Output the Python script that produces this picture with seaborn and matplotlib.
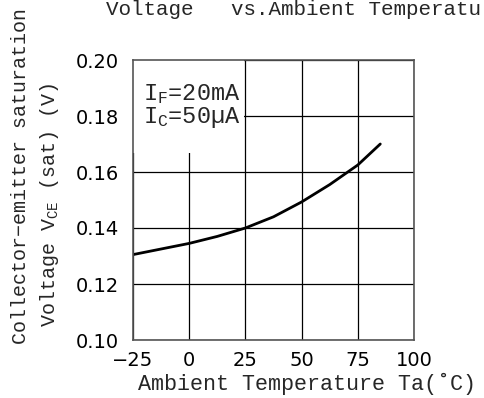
import matplotlib
matplotlib.use("Agg")
import matplotlib.pyplot as plt
import seaborn as sns
import pandas as pd
from matplotlib.patches import Rectangle

# Data
temperature = [-25, -12.5, 0, 12.5, 25, 37.5, 50, 62.5, 75, 85]
vce_sat = [0.1305, 0.1325, 0.1345, 0.137, 0.140, 0.144, 0.1493, 0.1555, 0.1625, 0.170]
x_ticks = [-25, 0, 25, 50, 75, 100]
x_ticklabels = ["\u221225", "0", "25", "50", "75", "100"]
y_ticks = [0.10, 0.12, 0.14, 0.16, 0.18, 0.20]
y_ticklabels = ["0.10", "0.12", "0.14", "0.16", "0.18", "0.20"]

sns.set_theme(style="white")
MONO = ["Liberation Mono", "DejaVu Sans Mono"]
plt.rcParams["font.family"] = ["DejaVu Sans"]
plt.rcParams["mathtext.fontset"] = "custom"
plt.rcParams["mathtext.rm"] = "Liberation Mono"
plt.rcParams["mathtext.it"] = "Liberation Mono"
plt.rcParams["mathtext.default"] = "rm"

W, H = 484, 398
df = pd.DataFrame({"Ta": temperature, "Vce": vce_sat})

fig = plt.figure(figsize=(W / 100, H / 100), dpi=100)
ax = fig.add_axes([133 / W, 1 - 340 / H, (414 - 133) / W, (340 - 60) / H])

ax.set_xlim(-25, 100)
ax.set_ylim(0.10, 0.20)
ax.set_xticks(x_ticks)
ax.set_xticklabels(x_ticklabels)
ax.set_yticks(y_ticks)
ax.set_yticklabels(y_ticklabels)
ax.tick_params(axis="both", length=0, labelsize=14, colors="black")
ax.tick_params(axis="y", pad=10)
ax.tick_params(axis="x", pad=8)

ax.grid(True, color="black", linewidth=0.9, zorder=0.5)
ax.set_axisbelow(True)
for s in ax.spines.values():
    s.set_color("#555555")
    s.set_linewidth(1.2)
    s.set_zorder(5)

# white box behind annotation text
ax.add_patch(Rectangle((-25, 0.1668), 49.5, 0.2 - 0.1668, facecolor="white",
                       edgecolor="none", zorder=1))

sns.lineplot(data=df, x="Ta", y="Vce", ax=ax, color="black", linewidth=2.0, zorder=3)
ax.set_xlabel("")
ax.set_ylabel("")


def px(x, y):
    return x / W, 1 - y / H


texts = []
t_if = fig.text(*px(143, 100), r"I$_{\mathrm{F}}$=20mA", ha="left", va="baseline",
                family=MONO, fontsize=14)
texts.append((t_if, 97, False))
t_xl = fig.text(*px(138, 390), "Ambient Temperature Ta(\u02daC)", ha="left", va="baseline",
                family=MONO, fontsize=14)
texts.append((t_xl, 338, False))
t_title = fig.text(*px(106, 15), "Voltage   vs.Ambient Temperatu", ha="left", va="baseline",
                   family=MONO, fontsize=14)
texts.append((t_title, 376, False))
t_y1 = fig.text(*px(21, 344), "Collector\u2212emitter saturation", rotation=90,
                ha="center", va="bottom", family=MONO, fontsize=14)
texts.append((t_y1, 337, True))
t_y2 = fig.text(*px(50, 327), r"Voltage V$_{\mathrm{CE}}$ (sat) (V)", rotation=90,
                ha="center", va="bottom", family=MONO, fontsize=14)
texts.append((t_y2, 244, True))

fig.canvas.draw()
renderer = fig.canvas.get_renderer()
for _ in range(3):
    for t, target, vertical in texts:
        bb = t.get_window_extent(renderer)
        cur = bb.height if vertical else bb.width
        if cur > 0:
            t.set_fontsize(t.get_fontsize() * target / cur)
    fig.canvas.draw()

t_ic = fig.text(*px(143, 123.5), "I$_{\\mathrm{C}}$=50\u00b5A", ha="left", va="baseline",
                family=MONO, fontsize=t_if.get_fontsize())

fig.savefig("out.png", dpi=100, facecolor="white")
